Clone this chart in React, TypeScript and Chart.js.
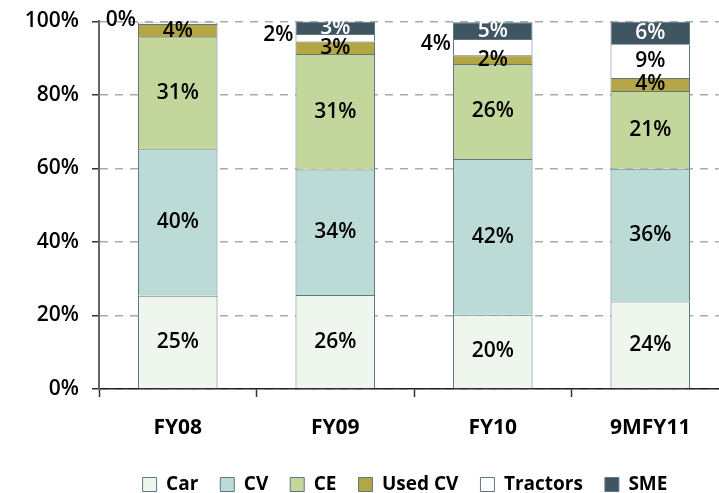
import React, { useEffect, useRef } from "react";
import { Chart, registerables } from "chart.js";

Chart.register(...registerables);

const categories = ["FY08", "FY09", "FY10", "9MFY11"];
const car = [25.4, 25.6, 20.2, 23.8];
const cv = [39.8, 34.1, 42.4, 36.1];
const ce = [30.5, 31.4, 25.8, 21.2];
const usedCv = [3.6, 3.4, 2.4, 3.5];
const tractors = [0.4, 2.1, 4.4, 9.2];
const sme = [0, 3.4, 4.6, 6.2];
const yMin = 0;
const yMax = 100;
const yStep = 20;

const BORDER = "#5E7883";
const LABEL_FONT = '600 21px "Open Sans", sans-serif';
const LEGEND_SHIFT = -9;

const segLabels = {
  id: "segLabels",
  afterDatasetsDraw(chart: any) {
    const ctx = chart.ctx;
    ctx.save();
    ctx.font = LABEL_FONT;
    ctx.textBaseline = "middle";
    chart.data.datasets.forEach((ds: any, i: number) => {
      const meta = chart.getDatasetMeta(i);
      meta.data.forEach((bar: any, j: number) => {
        const v = ds.data[j];
        if (!v) return;
        const { x, y, base, width } = bar.getProps(["x", "y", "base", "width"], true);
        const cy = (y + base) / 2;
        const text = Math.round(v) + "%";
        if (ds.outsideSmall && v < 5) {
          ctx.textAlign = "right";
          ctx.fillStyle = "#000";
          ctx.fillText(text, x - width / 2 - 2, cy - 3);
        } else {
          ctx.textAlign = "center";
          ctx.fillStyle = ds.labelColor || "#000";
          ctx.fillText(text, x, cy);
        }
      });
    });
    ctx.restore();
  },
};

const legendShift = {
  id: "legendShift",
  afterLayout(chart: any) {
    const lg = chart.legend;
    if (lg) {
      lg.left += LEGEND_SHIFT;
      lg.right += LEGEND_SHIFT;
    }
  },
};

export default function App() {
  const ref = useRef<HTMLCanvasElement | null>(null);

  useEffect(() => {
    if (!ref.current) return;
    const mk = (label: string, data: number[], color: string, extra: any = {}) => ({
      label,
      data,
      backgroundColor: color,
      borderColor: BORDER,
      borderWidth: 1,
      ...extra,
    });
    const chart = new Chart(ref.current, {
      type: "bar",
      data: {
        labels: categories,
        datasets: [
          mk("Car", car, "#EEF6EE"),
          mk("CV", cv, "#BCDBD7"),
          mk("CE", ce, "#C3D69B"),
          mk("Used CV", usedCv, "#B4A644"),
          mk("Tractors", tractors, "#FFFFFF", { outsideSmall: true }),
          mk("SME", sme, "#3F5561", { labelColor: "#FFFFFF" }),
        ] as any,
      },
      options: {
        responsive: false,
        animation: false,
        devicePixelRatio: 1,
        layout: { padding: { top: 20.5, right: 1, left: 0, bottom: 0 } },
        datasets: { bar: { categoryPercentage: 1, barPercentage: 0.505 } },
        plugins: {
          tooltip: { enabled: false },
          legend: {
            position: "bottom",
            fullSize: false,
            labels: {
              boxWidth: 14,
              boxHeight: 14,
              padding: 22,
              color: "#000",
              font: { family: '"Open Sans", sans-serif', size: 19, weight: "bold" },
            },
          },
        },
        scales: {
          x: {
            stacked: true,
            grid: {
              drawOnChartArea: false,
              drawTicks: true,
              offset: true,
              tickLength: 8,
              tickColor: "#333",
              tickWidth: 1.5,
            },
            border: { color: "#222", width: 1.5 },
            ticks: {
              color: "#000",
              padding: 18,
              font: { family: '"Open Sans", sans-serif', size: 21, weight: "bold" },
            },
            afterFit(scale: any) {
              scale.height = 64;
            },
          },
          y: {
            stacked: true,
            min: yMin,
            max: yMax,
            ticks: {
              stepSize: yStep,
              color: "#000",
              padding: 13,
              font: { family: '"Open Sans", sans-serif', size: 21, weight: 600, lineHeight: 0.8 },
              callback: (v: any) => v + "%",
            },
            grid: {
              color: "#AAAAAA",
              lineWidth: 1.5,
              tickLength: 7,
              tickColor: "#333",
              tickWidth: 1.5,
              tickBorderDash: [],
            },
            border: { color: "#666", width: 2, dash: [8, 7] },
            afterFit(scale: any) {
              scale.width = 99;
            },
          },
        },
      },
      plugins: [segLabels, legendShift],
    });
    return () => chart.destroy();
  }, []);

  return (
    <div
      style={{
        position: "fixed",
        left: 0,
        top: 0,
        width: 719,
        height: 493,
        overflow: "hidden",
        background: "#fff",
      }}
    >
      <canvas ref={ref} width={730} height={504} style={{ display: "block" }} />
    </div>
  );
}
